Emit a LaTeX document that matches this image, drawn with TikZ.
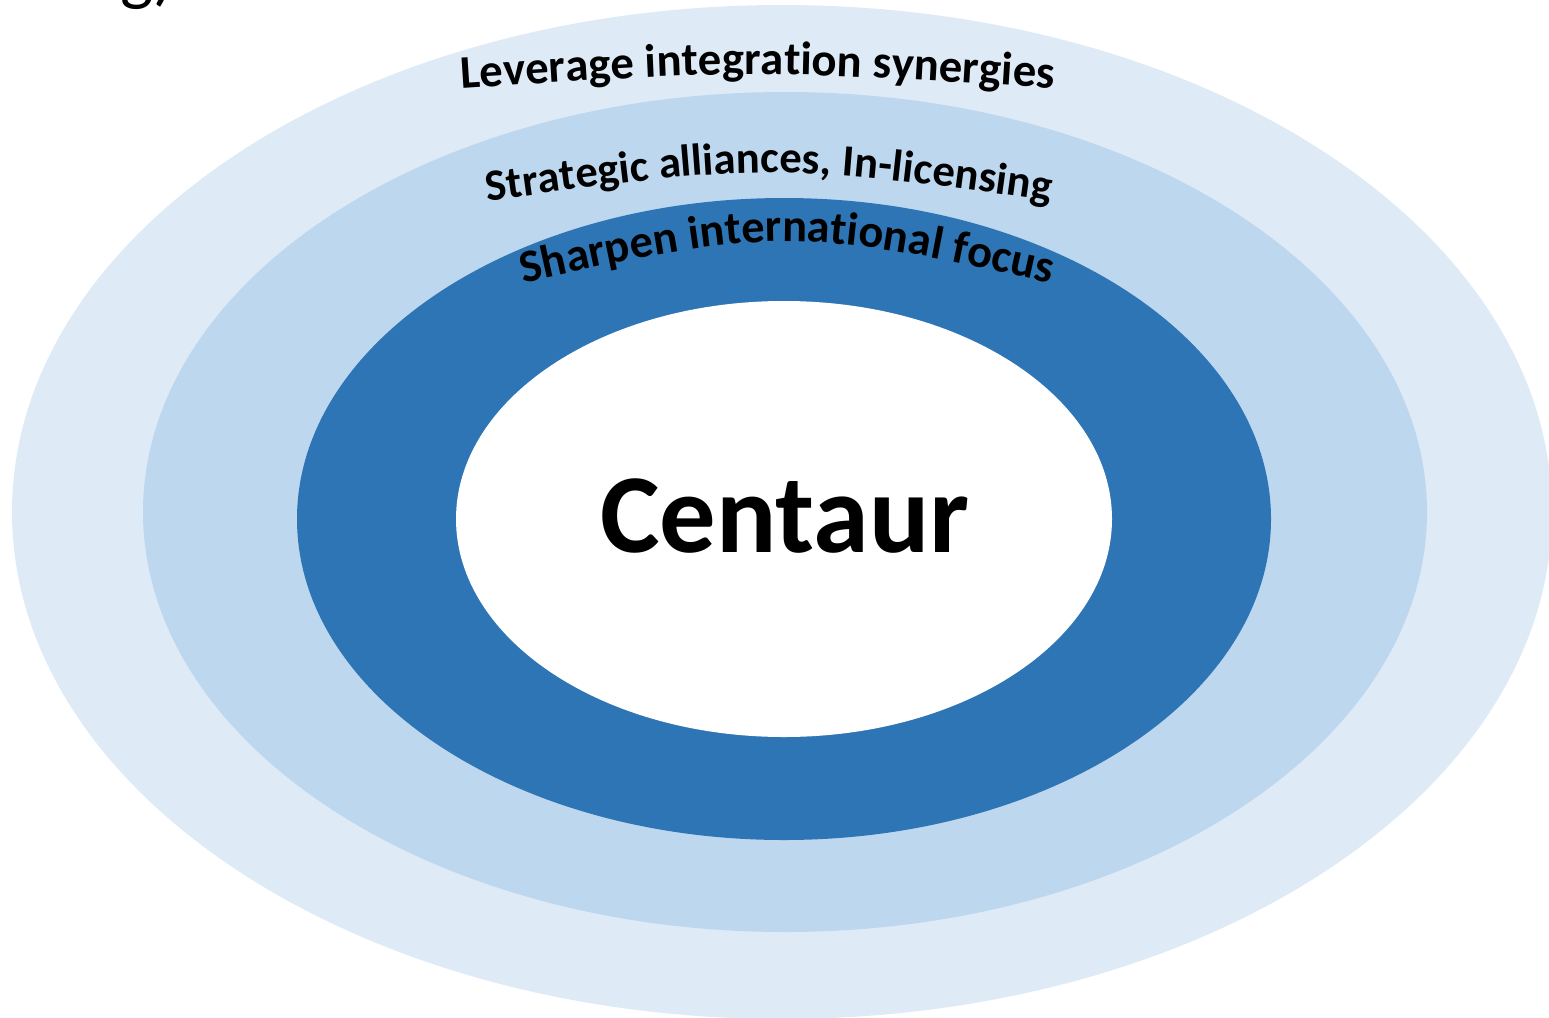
\documentclass[tikz,border=0pt]{standalone}
\usepackage{fontspec}
\setmainfont{Carlito}
\usetikzlibrary{decorations.text}

\definecolor{ringouter}{RGB}{222,235,247}
\definecolor{ringmid}{RGB}{189,215,238}
\definecolor{ringdark}{RGB}{46,117,182}

\tikzset{
  ringtext/.style={decorate, decoration={text along path, text align=center, text={#1}}}
}

\begin{document}
\begin{tikzpicture}[x=0.01cm, y=0.01cm]
        \useasboundingbox (0,0) rectangle (1549,1017);
        \clip (0,0) rectangle (1549,1017);

        % Rings, outside in
        \fill[ringouter] (782,505) ellipse [x radius=770, y radius=507];
        \fill[ringmid] (785,505) ellipse [x radius=642, y radius=420];
        \fill[ringdark] (784,498) ellipse [x radius=487, y radius=321];
        \fill[white] (784,498) ellipse [x radius=328, y radius=218];

        % Labels
        \node[anchor=base, font=\bfseries\fontsize{32}{38}\selectfont] (core) at (785,465) {Centaur};
        \node[anchor=base east, font=\fontsize{20}{24}\selectfont] (tag) at (187,1019) {g)};

        \path[ringtext={|\bfseries\fontsize{13.3}{16}\selectfont|Leverage integration synergies}]
            (420,926) .. controls (757,948) .. (1095,926);
        \path[ringtext={|\bfseries\fontsize{12.7}{15}\selectfont|Strategic alliances, In-licensing}]
            (440,809) .. controls (769,856) .. (1098,809);
        \path[ringtext={|\bfseries\fontsize{13.2}{16}\selectfont|Sharpen international focus}]
            (450,717) .. controls (787,795) .. (1124,717);

    \end{tikzpicture}
\end{document}
